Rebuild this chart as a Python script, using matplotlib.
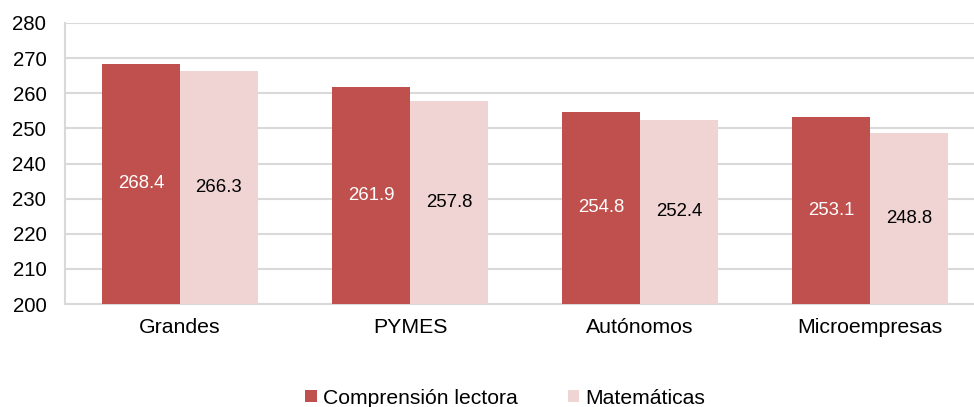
import matplotlib
matplotlib.use("Agg")
import matplotlib.pyplot as plt
import numpy as np

categories = ["Grandes", "PYMES", "Autónomos", "Microempresas"]
comprension = [268.4, 261.9, 254.8, 253.1]
matematicas = [266.3, 257.8, 252.4, 248.8]
series_names = ["Comprensión lectora", "Matemáticas"]
yticks = [200, 210, 220, 230, 240, 250, 260, 270, 280]

plt.rcParams['font.family'] = ['Liberation Sans', 'DejaVu Sans']

red = "#C0504D"
pink = "#F0D3D3"
grid = "#D9D9D9"

fig = plt.figure(figsize=(9.74, 4.07), dpi=100)
ax = fig.add_axes([65/974, 103/407, 909/974, 281/407])

x = np.arange(len(categories))
w = 0.339
b1 = ax.bar(x - w/2, np.array(comprension) - 200, w, bottom=200, color=red, label=series_names[0], zorder=3)
b2 = ax.bar(x + w/2, np.array(matematicas) - 200, w, bottom=200, color=pink, label=series_names[1], zorder=3)

for xi, v in zip(x, comprension):
    ax.text(xi - w/2, (v + 200) / 2, f"{v:.1f}", ha="center", va="center", color="white", fontsize=13.4, zorder=4)
for xi, v in zip(x, matematicas):
    ax.text(xi + w/2, (v + 200) / 2, f"{v:.1f}", ha="center", va="center", color="black", fontsize=13.4, zorder=4)

ax.set_ylim(200, 280)
ax.set_xlim(-0.5, -0.5 + 909/230)
ax.set_yticks(yticks)
ax.set_xticks(x)
ax.set_xticklabels(categories)
ax.tick_params(axis="both", length=0, colors="black")
ax.tick_params(axis="y", pad=13.5, labelsize=14.7)
ax.tick_params(axis="x", pad=10, labelsize=15.3)
ax.yaxis.grid(True, color=grid, linewidth=1.5, zorder=0)
ax.set_axisbelow(True)
for s in ["top", "right"]:
    ax.spines[s].set_visible(False)
ax.spines["left"].set_color(grid)
ax.spines["left"].set_linewidth(1.5)
ax.spines["bottom"].set_color(grid)
ax.spines["bottom"].set_linewidth(1.5)

fig.legend(handles=[b1, b2], labels=series_names, loc="center", bbox_to_anchor=(505/974, 1 - 398/407),
           ncol=2, frameon=False, fontsize=15.2, handlelength=0.55, handleheight=0.55, handletextpad=0.28,
           columnspacing=2.38, borderaxespad=0)

fig.savefig("out.png", dpi=100)
